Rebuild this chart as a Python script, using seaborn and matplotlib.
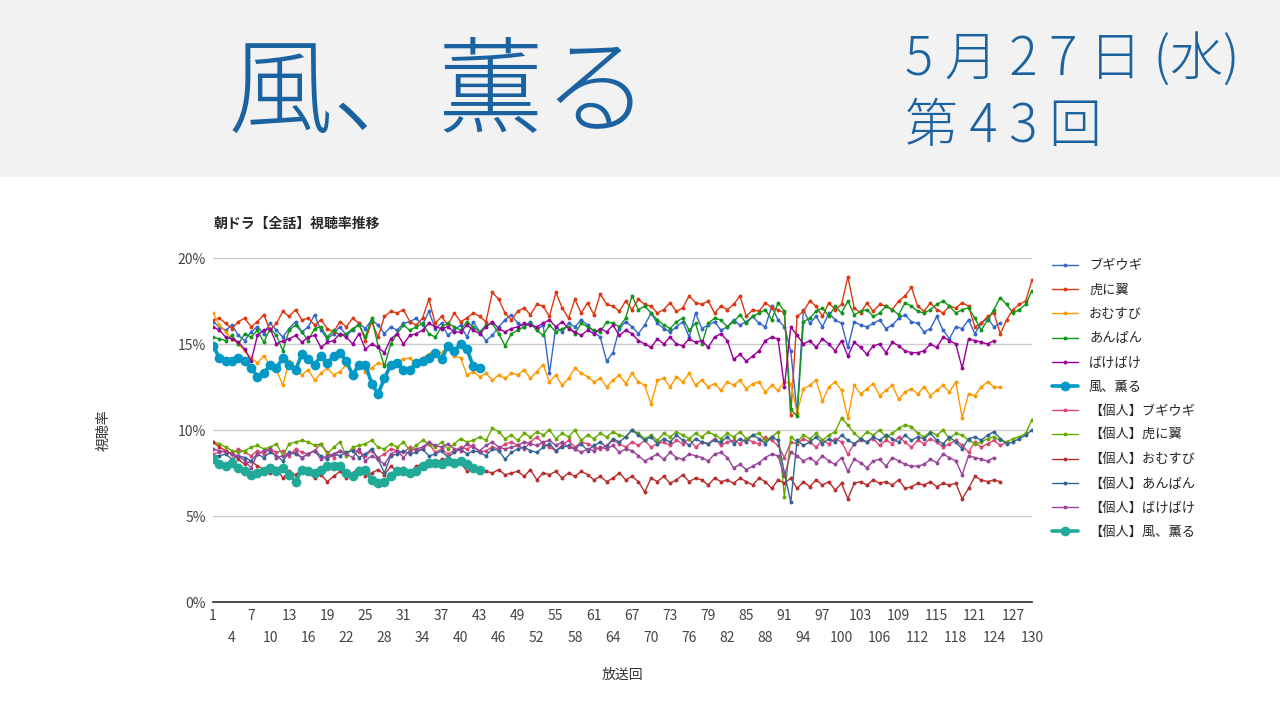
import matplotlib
matplotlib.use("Agg")
import matplotlib.pyplot as plt
import seaborn as sns
import pandas as pd

sns.set_theme(style="white")
plt.rcParams['font.family'] = ['Noto Sans CJK JP', 'DejaVu Sans']

series_names = ["ブギウギ", "虎に翼", "おむすび", "あんぱん", "ばけばけ", "風、薫る",
                "【個人】ブギウギ", "【個人】虎に翼", "【個人】おむすび", "【個人】あんぱん", "【個人】ばけばけ", "【個人】風、薫る"]
colors = ["#3366cc", "#dc3912", "#ff9900", "#109618", "#990099", "#0099c6",
          "#dd4477", "#66aa00", "#b82e2e", "#316395", "#994499", "#22aa99"]

bugi = [16.3,16.0,15.8,16.1,15.5,15.2,15.7,16.0,15.6,16.2,15.8,15.4,15.9,16.3,15.7,16.0,16.7,15.8,15.3,15.6,
        16.0,15.5,15.8,16.2,15.9,16.4,16.1,15.6,16.0,15.8,16.2,16.3,16.5,16.1,16.9,15.9,16.2,15.5,15.8,16.1,
        15.4,16.3,15.7,15.2,15.5,16.0,16.4,16.7,16.2,16.0,16.3,15.8,16.1,13.3,16.0,15.7,16.2,16.0,16.4,16.1,
        15.7,15.4,14.0,14.5,15.9,16.3,16.0,15.6,16.1,16.8,16.2,15.9,15.7,16.0,16.3,15.4,16.8,15.9,16.1,16.3,
        15.8,16.0,16.4,16.1,16.3,16.6,16.2,16.0,17.2,16.4,16.0,14.6,11.0,17.0,16.2,16.6,16.0,16.8,16.4,16.2,
        14.8,16.3,16.1,16.0,16.2,16.4,15.9,16.1,16.5,16.7,16.3,16.2,15.7,15.9,16.6,15.8,15.3,16.0,15.9,16.4,
        15.6,16.2,16.5,16.0,16.2]
tora = [16.4,16.5,16.2,15.9,16.3,16.5,16.0,16.3,16.7,15.8,16.2,16.9,16.6,17.0,16.4,16.5,16.1,16.4,15.9,15.7,
        16.3,16.0,16.5,16.2,15.2,16.3,15.4,16.6,16.9,16.8,17.0,16.3,16.1,16.5,17.6,16.2,16.6,16.1,16.8,16.3,
        16.5,16.8,16.6,16.3,18.0,17.6,16.8,16.4,16.9,17.1,16.7,17.3,17.2,16.6,18.0,17.1,16.5,17.6,16.8,17.4,
        16.7,17.9,17.3,17.2,16.9,17.5,17.0,17.6,17.3,17.2,16.8,17.0,17.4,16.9,17.1,17.8,17.4,17.3,17.5,16.8,
        17.2,17.0,17.3,17.8,16.6,17.0,16.9,17.4,17.1,17.0,16.8,10.9,16.6,16.9,17.5,17.2,16.6,17.4,17.0,17.3,
        18.9,17.1,16.8,17.4,16.9,17.3,17.2,17.0,17.5,17.8,18.3,17.2,16.9,17.4,17.0,16.8,17.2,17.1,17.4,17.2,
        16.0,16.2,16.6,16.8,15.6,16.4,17.0,17.3,17.5,18.7]
omusubi = [16.8,16.1,15.7,15.3,15.0,14.6,14.2,13.9,14.3,13.8,13.5,12.6,14.0,13.6,13.2,13.5,12.9,13.3,13.6,13.2,
           13.4,13.8,13.3,13.9,13.4,13.6,13.9,13.8,13.7,14.0,14.1,14.2,13.8,14.2,14.4,14.6,14.5,14.9,14.3,14.2,
           13.2,13.4,13.1,13.3,12.9,13.2,13.0,13.3,13.2,13.5,13.0,13.4,13.8,12.8,13.2,12.6,13.0,13.6,13.3,13.1,
           12.8,13.0,12.5,12.9,13.2,12.7,13.3,12.8,12.6,11.5,12.9,13.0,12.5,13.1,12.8,13.3,12.6,12.9,12.5,12.7,
           12.3,12.8,12.6,12.9,12.4,12.7,12.8,12.2,12.6,12.3,12.8,12.7,11.0,12.4,12.6,12.9,11.7,12.5,12.8,12.3,
           10.7,12.6,12.1,12.4,12.7,12.0,12.3,12.6,11.8,12.2,12.4,12.1,12.5,12.0,12.3,12.6,12.2,12.8,10.7,12.1,
           12.0,12.5,12.8,12.5,12.5]
anpan = [15.4,15.3,15.2,15.5,15.0,15.6,15.4,15.8,15.1,15.9,15.5,14.6,15.8,16.1,15.7,15.2,15.9,16.0,15.4,15.8,
         15.5,15.6,15.9,16.1,15.4,16.5,14.9,13.7,15.0,15.6,16.1,15.8,16.0,16.2,15.6,15.4,16.0,16.2,16.0,15.8,
         16.3,16.0,15.7,16.1,16.2,15.6,14.9,15.6,15.8,16.0,16.2,15.8,15.5,16.1,15.7,15.9,16.0,15.6,16.2,16.0,
         15.8,15.7,16.3,16.2,16.0,16.5,17.8,17.0,17.2,16.8,16.4,16.1,15.9,16.3,16.5,15.8,16.2,15.0,16.2,16.5,
         16.4,16.0,16.3,16.7,16.2,16.6,16.8,17.0,16.4,17.4,16.9,11.2,10.8,16.3,16.5,16.9,17.1,16.6,17.2,16.8,
         17.5,16.7,16.9,17.0,16.6,16.8,17.2,17.0,16.7,17.4,17.2,16.9,16.8,17.0,17.3,17.5,17.2,16.8,17.0,17.1,
         16.5,15.8,16.4,17.0,17.7,17.3,16.8,17.0,17.3,18.1]
bake = [16.0,15.8,15.4,15.3,15.1,14.7,14.0,15.5,15.8,15.9,15.0,15.2,15.3,15.5,15.1,15.4,15.5,14.8,15.1,15.2,
        15.6,15.4,15.0,15.6,14.7,15.0,14.8,14.5,15.3,15.6,15.0,15.5,15.6,15.8,16.2,16.0,15.9,16.0,15.7,15.7,
        16.1,15.8,15.6,16.0,16.3,15.9,15.7,15.9,16.0,16.2,16.1,16.0,16.2,16.4,16.0,16.3,15.9,15.7,15.5,15.8,
        15.6,15.9,15.7,16.1,15.5,15.8,15.6,15.2,15.0,14.8,15.3,15.0,15.4,15.0,14.9,15.3,15.1,15.2,14.8,15.4,
        15.6,15.2,14.1,14.4,14.0,14.3,14.6,15.2,15.4,15.3,12.5,16.0,15.5,15.0,15.2,14.8,15.3,15.0,14.6,15.2,
        14.3,15.1,14.8,14.4,14.9,15.0,14.5,15.1,14.9,14.6,14.5,14.5,14.6,15.0,14.8,15.4,15.2,15.0,13.6,15.3,
        15.2,15.1,15.0,15.2]
kaoru = [14.9,14.2,14.0,14.0,14.2,14.0,13.6,13.1,13.3,13.8,13.6,14.2,13.8,13.5,14.4,14.1,13.8,14.3,13.9,14.3,
         14.5,14.0,13.2,13.8,13.8,12.7,12.1,13.0,13.8,13.9,13.5,13.5,13.9,14.0,14.2,14.5,14.1,14.9,14.6,15.0,
         14.7,13.7,13.6]
p_bugi = [8.6,8.7,8.8,8.6,8.9,8.7,8.5,8.8,8.6,8.9,8.7,8.8,8.5,8.9,8.7,8.6,8.8,9.2,8.7,8.4,
          8.8,8.6,8.9,8.7,8.5,8.8,8.4,8.6,8.9,8.8,8.7,9.0,8.8,8.9,9.2,8.7,8.9,8.6,8.8,9.0,
          8.9,9.1,8.7,8.8,9.0,8.9,9.2,9.3,9.1,8.9,9.3,9.6,9.2,9.0,8.8,9.1,9.4,9.0,9.3,9.2,
          9.0,8.9,9.1,9.4,9.2,9.0,9.3,9.1,9.4,9.0,9.2,9.3,9.1,9.4,9.2,9.5,9.0,9.3,9.2,9.5,
          9.1,9.3,9.4,9.2,9.5,9.3,9.2,9.6,9.4,9.1,8.4,9.3,9.2,9.5,9.3,9.0,9.4,9.2,9.5,9.3,
          8.6,9.2,9.4,9.3,9.5,9.1,9.4,9.2,9.6,9.3,9.0,9.4,9.2,9.5,9.3,9.0,9.2,9.4,9.1,8.7,
          9.3,9.0,9.2,9.4,9.1,9.3]
p_tora = [9.3,9.2,9.0,8.8,8.7,8.8,9.0,9.1,8.9,9.0,9.2,8.5,9.2,9.3,9.4,9.3,9.1,9.2,8.6,9.0,
          9.3,8.5,9.0,9.1,9.2,9.4,9.0,8.9,9.2,9.0,9.3,8.8,9.1,9.4,9.2,9.0,9.3,8.9,9.2,9.5,
          9.3,9.4,9.6,9.4,10.1,9.9,9.5,9.7,9.4,9.8,9.6,9.9,9.7,10.0,9.5,9.8,9.6,10.0,9.4,9.7,
          9.5,9.8,9.6,9.9,9.7,9.6,10.0,9.8,9.5,9.7,9.4,9.8,9.6,9.9,9.7,9.5,9.8,9.6,9.9,9.7,
          9.5,9.8,9.6,9.9,9.5,9.7,9.8,9.4,9.6,9.9,6.1,9.6,9.3,9.7,9.5,9.8,9.4,9.7,9.9,10.7,
          10.3,9.8,9.5,9.9,9.7,10.0,9.6,9.8,10.1,10.3,10.2,9.8,9.6,9.9,9.7,10.0,9.5,9.8,9.7,9.4,
          9.2,9.3,9.5,9.6,9.4,9.3,9.5,9.6,9.8,10.6]
p_omusubi = [9.3,9.0,8.8,8.6,8.3,8.0,8.2,7.9,7.7,7.5,7.8,7.2,7.6,7.4,7.7,7.5,7.2,7.4,7.0,7.3,
             7.6,7.2,7.5,7.8,7.3,7.5,7.7,7.4,7.9,7.6,7.8,7.5,7.9,8.0,8.2,8.0,8.3,8.1,8.2,8.1,
             7.6,7.8,7.7,7.6,7.5,7.7,7.4,7.5,7.6,7.3,7.7,7.1,7.5,7.4,7.6,7.2,7.5,7.3,7.6,7.4,
             7.1,7.3,7.0,7.2,7.5,7.1,7.3,7.0,6.4,7.2,7.0,7.3,6.9,7.1,7.4,7.0,7.2,7.1,6.8,7.2,
             7.0,7.1,6.9,7.2,7.0,6.8,7.2,7.0,6.6,7.1,6.9,7.2,6.6,7.0,6.7,7.1,6.8,7.0,6.5,6.9,
             6.0,6.9,7.0,6.8,7.1,6.9,7.0,6.8,7.1,6.6,6.7,6.9,6.8,7.0,6.7,6.9,6.8,6.9,6.0,6.6,
             7.3,7.1,7.0,7.1,7.0]
p_anpan = [8.5,8.5,8.6,8.3,8.5,8.4,8.2,8.6,8.4,8.7,8.5,8.2,8.7,8.6,8.4,8.6,8.8,8.5,8.3,8.6,
           8.5,8.7,8.8,8.4,8.6,8.9,8.3,7.5,8.5,8.6,8.8,8.6,8.7,8.9,8.5,8.6,8.8,8.4,8.7,8.9,
           8.6,8.8,8.7,8.5,8.9,8.8,8.3,8.7,8.9,9.0,8.8,8.7,9.0,9.2,8.8,9.0,9.1,8.9,9.2,8.8,
           9.1,9.3,9.0,9.5,9.3,9.6,10.0,9.7,9.4,9.6,9.2,9.5,9.3,9.7,9.4,9.1,9.5,9.3,9.2,9.4,
           9.3,9.6,9.2,9.5,9.3,9.7,9.5,9.2,9.6,9.4,7.5,5.8,9.4,9.1,9.3,9.6,9.2,9.5,9.3,9.7,
           9.4,9.2,9.5,9.3,9.6,9.4,9.7,9.5,9.3,9.7,9.4,9.6,9.5,9.8,9.4,9.2,9.6,9.3,8.9,9.5,
           9.6,9.4,9.7,9.9,9.5,9.2,9.3,9.5,9.7,10.0]
p_bake = [8.9,8.8,8.7,8.6,8.5,8.2,7.8,8.6,8.8,8.9,8.4,8.5,8.6,8.7,8.4,8.6,8.8,8.3,8.5,8.6,
          8.8,8.6,8.4,8.9,8.2,8.5,8.3,8.0,8.6,8.8,8.4,8.8,8.9,9.0,9.3,9.1,9.0,9.2,8.9,8.8,
          9.2,9.0,8.8,9.1,9.3,9.0,8.9,9.0,9.1,9.3,9.2,9.1,9.3,9.4,9.1,9.3,9.0,8.9,8.7,8.9,
          8.8,9.0,8.9,9.1,8.7,8.9,8.8,8.5,8.2,8.4,8.6,8.3,8.7,8.4,8.3,8.6,8.5,8.4,8.2,8.6,
          8.7,8.4,7.8,8.0,7.7,7.9,8.1,8.4,8.6,8.5,7.3,8.7,8.5,8.2,8.4,8.1,8.5,8.2,8.0,8.4,
          7.6,8.3,8.1,7.8,8.2,8.3,7.9,8.4,8.2,8.0,7.9,7.9,8.0,8.3,8.1,8.6,8.4,8.2,7.4,8.5,
          8.4,8.3,8.2,8.4]
p_kaoru = [8.3,8.0,7.9,8.1,7.8,7.6,7.4,7.5,7.6,7.8,7.6,7.8,7.4,7.0,7.7,7.6,7.5,7.7,7.9,7.9,
           7.9,7.5,7.3,7.6,7.7,7.1,6.9,7.0,7.3,7.6,7.6,7.5,7.6,7.9,8.1,8.1,8.0,8.2,8.1,8.2,
           8.0,7.8,7.7]

all_series = [bugi, tora, omusubi, anpan, bake, kaoru,
              p_bugi, p_tora, p_omusubi, p_anpan, p_bake, p_kaoru]

rows = []
for name, vals in zip(series_names, all_series):
    for i, v in enumerate(vals):
        rows.append({"series": name, "ep": i + 1, "rate": v})
df = pd.DataFrame(rows)

fig = plt.figure(figsize=(12.8, 7.2), dpi=100)
band = fig.add_axes([0, 1 - 177/720, 1, 177/720])
band.set_facecolor("#f2f2f2"); band.set_xticks([]); band.set_yticks([])
for s in band.spines.values(): s.set_visible(False)
title_col = "#1a63a0"
fig.text(228/1280, 1 - 95/720, "風、薫る", fontsize=76, color=title_col, va="center", ha="left",
         fontweight="light")
fig.text(905/1280, 1 - 60/720, "5 月 2 7 日 (水)", fontsize=38, color=title_col, va="center", ha="left",
         fontweight="light")
fig.text(905/1280, 1 - 127/720, "第 4 3 回", fontsize=38, color=title_col, va="center", ha="left",
         fontweight="light")

ax = fig.add_axes([213/1280, 1 - 602/720, (1032-213)/1280, (602-258)/720])
for name, col in zip(series_names, colors):
    d = df[df.series == name]
    big = name.endswith("風、薫る")
    sns.lineplot(data=d, x="ep", y="rate", ax=ax, color=col, label=name,
                 linewidth=2.6 if big else 1.0, marker="o",
                 markersize=7 if big else 2.8, markeredgewidth=0)

ax.set_xlim(1, 130); ax.set_ylim(0, 20)
ax.set_yticks([0, 5, 10, 15, 20])
ax.set_yticklabels(["0%", "5%", "10%", "15%", "20%"], fontsize=10, color="#444444")
ax.yaxis.grid(True, color="#cccccc", linewidth=1)
ax.xaxis.grid(False)
major = list(range(1, 131, 6))
minor = list(range(4, 131, 6))
ax.set_xticks(major)
ax.set_xticklabels([str(t) for t in major], fontsize=10, color="#444444")
ax.set_xticks(minor, minor=True)
ax.set_xticklabels([str(t) for t in minor], minor=True, fontsize=10, color="#444444")
ax.tick_params(axis="both", which="major", length=0, pad=5)
ax.tick_params(axis="x", which="minor", length=0, pad=21)
for s in ["top", "right", "left"]: ax.spines[s].set_visible(False)
ax.spines["bottom"].set_color("#333333")
ax.set_xlabel("放送回", fontsize=10, style="italic", color="#333333", labelpad=16)
ax.set_ylabel("視聴率", fontsize=10, style="italic", color="#333333", labelpad=48)
ax.set_title("朝ドラ【全話】視聴率推移", loc="left", fontsize=10, fontweight="bold", pad=22, x=0)
ax.legend(loc="upper left", bbox_to_anchor=(1.01, 1.03), frameon=False, fontsize=9.5,
          labelspacing=0.85, handlelength=2.0)

fig.savefig("out.png", dpi=100)
